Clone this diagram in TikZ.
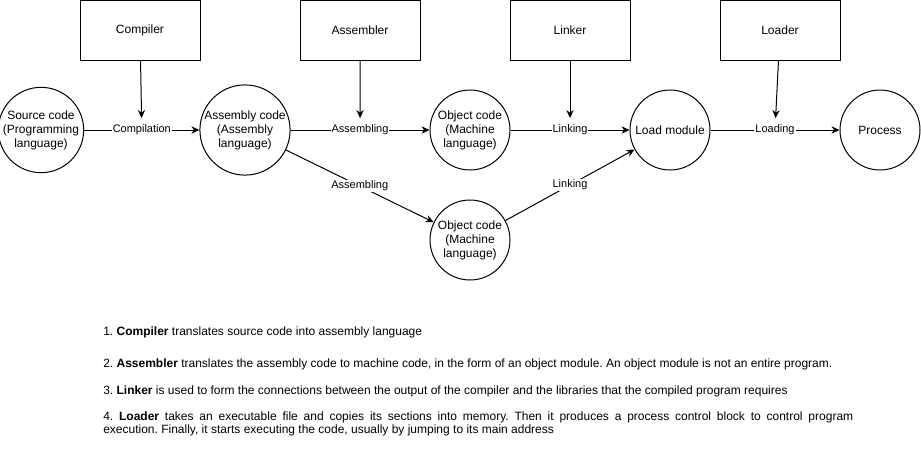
\documentclass[tikz,border=0pt]{standalone}
\usepackage{fontspec}
\setmainfont{Liberation Sans}
\usetikzlibrary{arrows.meta}
\frenchspacing
\begin{document}
\begin{tikzpicture}[x=0.75pt,y=-0.75pt,
  every node/.style={font=\fontsize{9pt}{10.5pt}\selectfont},
  proc/.style={draw,line width=0.75pt,minimum width=90pt,minimum height=45pt,inner sep=0},
  state/.style={draw,circle,line width=0.75pt,minimum size=60pt,inner sep=0,align=center},
  lbl/.style={fill=white,inner sep=0.75pt,font=\fontsize{8.25pt}{9.75pt}\selectfont},
  conn/.style={line width=0.75pt,-{Stealth[length=6pt,width=5.5pt]}},
  down/.style={conn,shorten >=4pt},
  note/.style={anchor=west,inner sep=0,font=\fontsize{9pt}{9.75pt}\selectfont}]
\useasboundingbox (0,0) rectangle (921,454);

% tool boxes
\node[proc] (compiler)  at (140,30.5) {Compiler};
\node[proc] (assembler) at (360,30.5) {Assembler};
\node[proc] (linker)    at (570,30.5) {Linker};
\node[proc] (loader)    at (780,30.5) {Loader};

% states
\node[state] (src)  at (41,130)  {Source code\\(Programming\\language)};
\node[state,minimum size=67.5pt] (asm) at (245,130) {Assembly code\\(Assembly\\language)};
\node[state] (obj1) at (470,130) {Object code\\(Machine\\language)};
\node[state] (obj2) at (470,240) {Object code\\(Machine\\language)};
\node[state] (load) at (670,130) {Load module};
\node[state] (proc) at (880,130) {Process};

% flow
\draw[conn] (src) -- node[lbl] (l1) {Compilation} (asm);
\draw[conn] (asm) -- node[lbl] (l2) {Assembling} (obj1);
\draw[conn] (obj1) -- node[lbl] (l3) {Linking} (load);
\draw[conn] (load) -- node[lbl] (l4) {Loading} (proc);
\draw[conn] (asm) -- node[lbl] (l5) {Assembling} (obj2);
\draw[conn] (obj2) -- node[lbl] (l6) {Linking} (load);

% tools into flows
\draw[down] (compiler) -- (l1);
\draw[down] (assembler) -- (l2);
\draw[down] (linker) -- (l3);
\draw[down] (loader) -- (l4);

% notes
\node[note] (n1) at (103,332) {1. \textbf{Compiler} translates source code into assembly language};
\node[note] (n2) at (103,364) {2. \textbf{Assembler} translates the assembly code to machine code, in the form of an object module. An object module is not an entire program.};
\node[note] (n3) at (103,391) {3. \textbf{Linker} is used to form the connections between the output of the compiler and the libraries that the compiled program requires};
\node[note,text width=562.5pt,align=justify] (n4) at (103,423.5) {4. \textbf{Loader} takes an executable file and copies its sections into memory. Then it produces a process control block to control program\linebreak execution. Finally, it starts executing the code, usually by jumping to its main address};
\end{tikzpicture}
\end{document}
